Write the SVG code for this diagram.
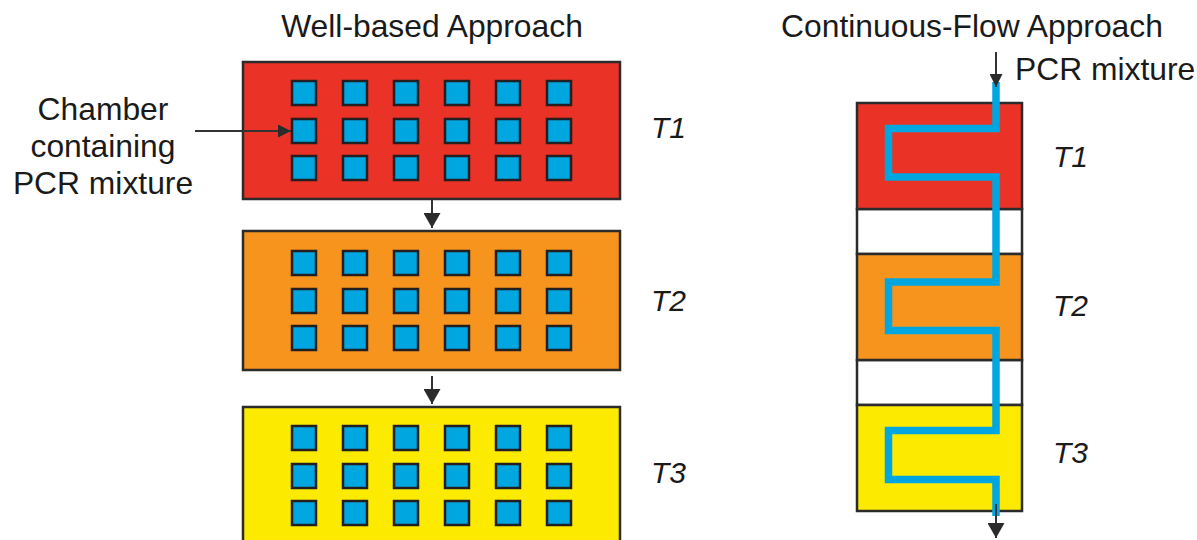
<svg xmlns="http://www.w3.org/2000/svg" width="1197" height="540" viewBox="0 0 1197 540">
<style>
text{font-family:"Liberation Sans",Arial,sans-serif;fill:#1a1a1a}
.t{font-size:31.8px}
.ti{font-size:30px;font-style:italic}
.box{stroke:#2b2b2b;stroke-width:2.5}
.sq{fill:#00A6E0;stroke:#231F20;stroke-width:2.5}
.ln{stroke:#333;stroke-width:2;fill:none}
</style>
<defs>
<marker id="ahs" viewBox="0 0 13 13" refX="13" refY="6.5" markerWidth="13" markerHeight="13" markerUnits="userSpaceOnUse" orient="auto">
<path d="M0,0 L13,6.5 L0,13 z" fill="#2b2b2b"/>
</marker>
<marker id="ahb" viewBox="0 0 15 17" refX="15" refY="8.5" markerWidth="15" markerHeight="17" markerUnits="userSpaceOnUse" orient="auto">
<path d="M0,0 L15,8.5 L0,17 z" fill="#2b2b2b"/>
</marker>
<g id="grid">
<rect class="sq" x="0" y="0" width="24" height="24"/><rect class="sq" x="51" y="0" width="24" height="24"/><rect class="sq" x="102" y="0" width="24" height="24"/><rect class="sq" x="153" y="0" width="24" height="24"/><rect class="sq" x="204" y="0" width="24" height="24"/><rect class="sq" x="255" y="0" width="24" height="24"/>
<rect class="sq" x="0" y="38" width="24" height="24"/><rect class="sq" x="51" y="38" width="24" height="24"/><rect class="sq" x="102" y="38" width="24" height="24"/><rect class="sq" x="153" y="38" width="24" height="24"/><rect class="sq" x="204" y="38" width="24" height="24"/><rect class="sq" x="255" y="38" width="24" height="24"/>
<rect class="sq" x="0" y="75" width="24" height="24"/><rect class="sq" x="51" y="75" width="24" height="24"/><rect class="sq" x="102" y="75" width="24" height="24"/><rect class="sq" x="153" y="75" width="24" height="24"/><rect class="sq" x="204" y="75" width="24" height="24"/><rect class="sq" x="255" y="75" width="24" height="24"/>
</g>
</defs>
<rect width="1197" height="540" fill="#fff"/>
<g id="titles">
<text class="t" x="432" y="37" text-anchor="middle">Well-based Approach</text>
<text class="t" x="972" y="37" text-anchor="middle">Continuous-Flow Approach</text>
</g>
<g id="well-T1">
<rect class="box" x="243" y="62" width="377" height="137" fill="#EA3326"/>
<use href="#grid" x="292" y="81"/>
<text class="ti" x="651" y="138">T1</text>
</g>
<g id="well-T2">
<rect class="box" x="243" y="231" width="377" height="139" fill="#F7941E"/>
<use href="#grid" x="292" y="251"/>
<text class="ti" x="651" y="311">T2</text>
</g>
<g id="well-T3">
<rect class="box" x="243" y="407" width="377" height="140" fill="#FCEA00"/>
<use href="#grid" x="292" y="426"/>
<text class="ti" x="651" y="483">T3</text>
</g>
<g id="chamber-label">
<text class="t" x="103" y="120" text-anchor="middle">Chamber</text>
<text class="t" x="103" y="157" text-anchor="middle">containing</text>
<text class="t" x="103" y="194" text-anchor="middle">PCR mixture</text>
</g>
<g id="flow-device">
<rect class="box" x="857" y="209" width="165" height="45" fill="#fff" stroke="#555"/>
<rect class="box" x="857" y="360" width="165" height="45" fill="#fff" stroke="#555"/>
<rect class="box" x="857" y="103" width="165" height="106" fill="#EA3326"/>
<rect class="box" x="857" y="254" width="165" height="106" fill="#F7941E"/>
<rect class="box" x="857" y="405" width="165" height="106" fill="#FCEA00"/>
<path d="M996,82 V128.5 H888.5 V177 H996 V282 H888.5 V330.5 H996 V430.5 H888.5 V479.5 H996 V516" fill="none" stroke="#00A6E0" stroke-width="7.5"/>
<text class="ti" x="1053" y="167">T1</text>
<text class="ti" x="1053" y="316">T2</text>
<text class="ti" x="1053" y="463">T3</text>
<text class="t" x="1015" y="80">PCR mixture</text>
</g>
<g id="connectors">
<line class="ln" x1="432" y1="199" x2="432" y2="228" marker-end="url(#ahb)"/>
<line class="ln" x1="432" y1="376" x2="432" y2="404" marker-end="url(#ahb)"/>
<line class="ln" x1="195" y1="131" x2="291" y2="131" marker-end="url(#ahs)"/>
<line class="ln" x1="996" y1="52" x2="996" y2="87" marker-end="url(#ahs)"/>
<line class="ln" x1="996" y1="504" x2="996" y2="538" marker-end="url(#ahb)"/>
</g>
</svg>
